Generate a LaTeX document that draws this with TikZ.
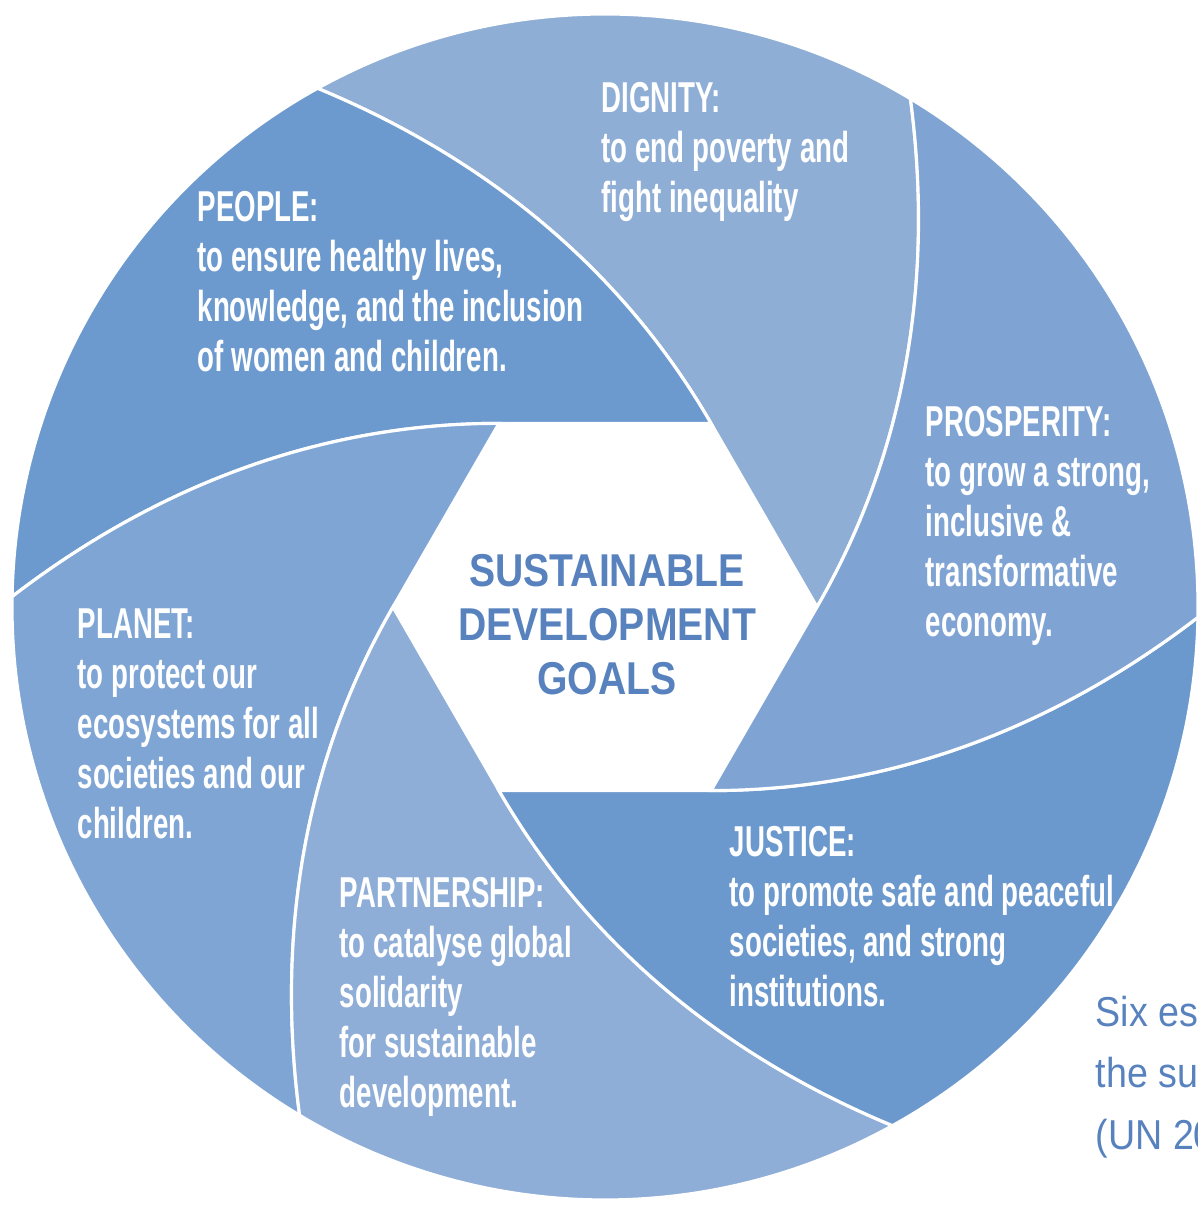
\documentclass[tikz,border=0pt]{standalone}
\usepackage{fontspec}
\newfontfamily\condfont[FakeStretch=0.64]{Liberation Sans}
\newfontfamily\hubfont[FakeStretch=0.85]{Liberation Sans}
\newfontfamily\notefont[FakeStretch=0.9]{Liberation Sans}
\definecolor{dignitycol}{RGB}{143,174,214}
\definecolor{peoplecol}{RGB}{108,154,206}
\definecolor{planetcol}{RGB}{127,165,213}
\definecolor{partnercol}{RGB}{143,174,215}
\definecolor{justicecol}{RGB}{108,153,205}
\definecolor{prospercol}{RGB}{127,164,212}
\definecolor{titleblue}{RGB}{88,130,190}

\begin{document}
\begin{tikzpicture}[goal/.style={anchor=north west,inner sep=0pt,align=left,text=white,font=\condfont\bfseries\fontsize{12.3}{14.2}\selectfont}]
\useasboundingbox (0,0) rectangle (11.97,12.05);

% six petals round the white hexagon
\foreach \ang/\col in {0/dignitycol,60/peoplecol,120/planetcol,180/partnercol,240/justicecol,300/prospercol}
  \filldraw[fill=\col,draw=white,line width=0.9pt,shift={(6.05,5.98)},rotate=\ang]
    (0:2.12) .. controls (27.3:3.40) and (45.1:4.66) .. (59:5.93)
    arc[start angle=59,end angle=119,radius=5.93]
    .. controls (105.1:4.66) and (87.3:3.40) .. (60:2.12) -- cycle;

\node[font=\hubfont\bfseries\fontsize{13.1}{15.3}\selectfont,text=titleblue,align=center,anchor=north,inner sep=0pt] (sdg) at (6.07,6.51) {SUSTAINABLE\\DEVELOPMENT\\GOALS};

\node[goal] (dignity) at (6.01,11.23) {DIGNITY:\\to end poverty and\\fight inequality};
\node[goal] (people) at (1.97,10.14) {PEOPLE:\\to ensure healthy lives,\\knowledge, and the inclusion\\of women and children.};
\node[goal] (prosperity) at (9.25,7.99) {PROSPERITY:\\to grow a strong,\\inclusive \&\\transformative\\economy.};
\node[goal] (planet) at (0.77,5.97) {PLANET:\\to protect our\\ecosystems for all\\societies and our\\children.};
\node[goal] (partnership) at (3.39,3.28) {PARTNERSHIP:\\to catalyse global\\solidarity\\for sustainable\\development.};
\node[goal] (justice) at (7.29,3.79) {JUSTICE:\\to promote safe and peaceful\\societies, and strong\\institutions.};

\node[anchor=north west,inner sep=0pt,align=left,text=titleblue,font=\notefont\fontsize{11.9}{17.6}\selectfont] (note) at (10.95,2.10) {Six es\\the su\\(UN 20};
\end{tikzpicture}
\end{document}
